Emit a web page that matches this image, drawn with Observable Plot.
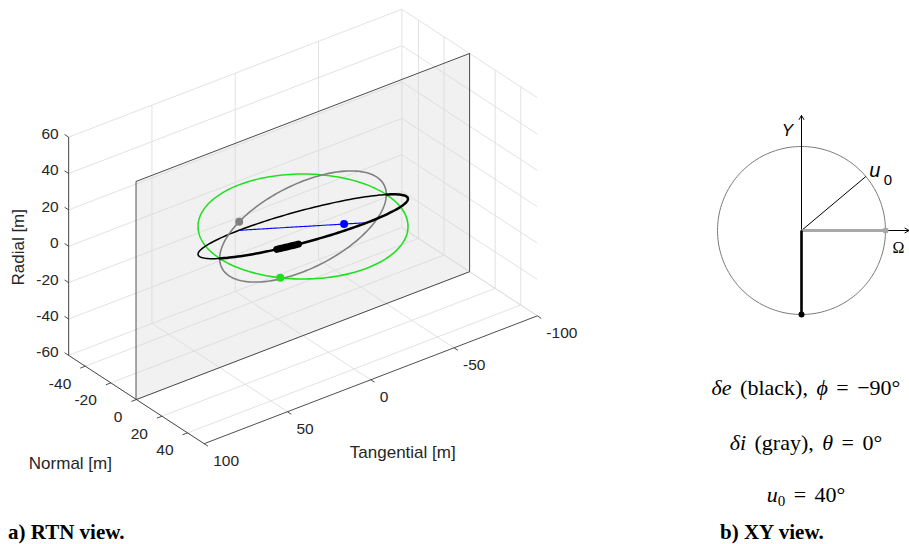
<!DOCTYPE html>
<html>
<head>
<meta charset="utf-8">
<script src="https://cdn.jsdelivr.net/npm/d3@7"></script>
<script src="https://cdn.jsdelivr.net/npm/@observablehq/plot@0.6"></script>
<style>
  body { margin: 0; background: #fff; }
  #page { position: relative; width: 909px; height: 544px; overflow: hidden; background: #fff; }
  #left { position: absolute; left: 0; top: 0; }
  #right { position: absolute; left: 690px; top: 0; }
  .math { position: absolute; left: 656px; width: 300px; text-align: center; white-space: nowrap;
          font-family: "Liberation Serif", "Times New Roman", serif; font-size: 22px; line-height: 24px;
          word-spacing: 3px; color: #000; }
  .math sub { font-size: 15px; vertical-align: -4px; line-height: 0; }
  .cap { position: absolute; font-family: "Liberation Serif", "Times New Roman", serif; font-weight: bold;
         font-size: 21px; line-height: 24px; color: #000; white-space: nowrap; }
</style>
</head>
<body>
<div id="page">
  <div id="left"></div>
  <div id="right"></div>
  <div class="math" id="m1" style="top:376px"></div>
  <div class="math" id="m2" style="top:431px"></div>
  <div class="math" id="m3" style="top:483px"></div>
  <div class="cap" style="left:8px; top:520px">a) RTN view.</div>
  <div class="cap" style="left:720px; top:520px">b) XY view.</div>
</div>
<script>
// ---------------- data ----------------
const radialTicks = [-60, -40, -20, 0, 20, 40, 60];
const normalTicks = [-40, -20, 0, 20, 40];
const tangentialTicks = [-100, -50, 0, 50, 100];
const radialLimits = [-60, 60];
const normalLimits = [-53, 53];
const tangentialLimits = [-100, 100];

const elementNames = ["δe", "δi"];
const elementColorNames = ["black", "gray"];
const elementAmplitudes = [25, 50];      // a·δe, a·δi  [m]
const elementPhasesDeg = [-90, 0];       // φ, θ  [deg]
const u0Deg = 40;                        // argument of latitude at epoch [deg]
const highlightArcDeg = [38, 50];        // thick arc on the 3D orbit
const sampleStepDeg = 2;                 // sampling step of argument of latitude

// ---------------- view (MATLAB-like az/el) ----------------
const AZ = 37.5 * Math.PI / 180, EL = 30 * Math.PI / 180;
const P = (n, t, r) => ({
  x: -Math.cos(AZ) * t + Math.sin(AZ) * n,
  y: Math.cos(EL) * r - Math.sin(EL) * (Math.sin(AZ) * t + Math.cos(AZ) * n)
});
const seg = (a, b) => ({x1: a.x, y1: a.y, x2: b.x, y2: b.y});
const rad = Math.PI / 180;

function motion(uDeg) {
  const [ae, ai] = elementAmplitudes, [phi, theta] = elementPhasesDeg;
  return {
    R: -ae * Math.cos((uDeg - phi) * rad),
    T: 2 * ae * Math.sin((uDeg - phi) * rad),
    N: ai * Math.sin((uDeg - theta) * rad)
  };
}
const full = u => { const m = motion(u); return P(m.N, m.T, m.R); };
const projRT = u => { const m = motion(u); return P(0, m.T, m.R); };
const projTN = u => { const m = motion(u); return P(m.N, m.T, 0); };
const projRN = u => { const m = motion(u); return P(m.N, 0, m.R); };

// argument-of-latitude ranges in front of (N >= 0) and behind (N <= 0) the N = 0 plane
const theta0 = elementPhasesDeg[1];
const frontU = d3.range(theta0, theta0 + 180 + 0.01, sampleStepDeg);
const backU = d3.range(theta0 + 180, theta0 + 360 + 0.01, sampleStepDeg);
const lineFrontU = d3.range(theta0, theta0 + 90 + 0.01, sampleStepDeg);
const lineBackU = d3.range(theta0 - 90, theta0 + 0.01, sampleStepDeg);
const allU = d3.range(0, 360 + 0.01, sampleStepDeg);

const arcPts = d3.range(highlightArcDeg[0], highlightArcDeg[1] + 0.01, 1).map(full);

const [nMin, nMax] = normalLimits, [tMin, tMax] = tangentialLimits, [rMin, rMax] = radialLimits;

const grid = [
  ...tangentialTicks.map(t => seg(P(nMin, t, rMin), P(nMin, t, rMax))),
  ...radialTicks.map(r => seg(P(nMin, tMin, r), P(nMin, tMax, r))),
  ...normalTicks.map(n => seg(P(n, tMin, rMin), P(n, tMin, rMax))),
  ...radialTicks.map(r => seg(P(nMin, tMin, r), P(nMax, tMin, r))),
  ...tangentialTicks.map(t => seg(P(nMin, t, rMin), P(nMax, t, rMin))),
  ...normalTicks.map(n => seg(P(n, tMin, rMin), P(n, tMax, rMin)))
];
const axisLines = [
  seg(P(nMin, tMax, rMin), P(nMin, tMax, rMax)),
  seg(P(nMin, tMax, rMin), P(nMax, tMax, rMin)),
  seg(P(nMax, tMin, rMin), P(nMax, tMax, rMin))
];
const tickMarks = [
  ...radialTicks.map(r => seg(P(nMin, tMax, r), P(nMin - 3.2, tMax, r))),
  ...normalTicks.map(n => seg(P(n, tMax, rMin), P(n, tMax + 3, rMin))),
  ...tangentialTicks.map(t => seg(P(nMax, t, rMin), P(nMax + 3, t, rMin)))
];
const plane = [P(0, tMax, rMax), P(0, tMin, rMax), P(0, tMin, rMin), P(0, tMax, rMin)];

const rLabels = radialTicks.map(r => ({...P(nMin, tMax, r), text: String(r)}));
const nLabels = normalTicks.map(n => ({...P(n, tMax, rMin), text: String(n)}));
const tLabels = tangentialTicks.map(t => ({...P(nMax, t, rMin), text: String(t)}));

const dotsRN = [projRN(u0Deg)];
const dotsRT = [projRT(u0Deg)];
const dotsTN = [projTN(u0Deg)];

// ---------------- left chart ----------------
const W1 = 640, H1 = 500, k = 2.1, ox = 302.5, oy = 226;
const GREEN = "#1fe01f", GRAY = "#808080", BLUE = "#0000ff";
const tickFont = 15.5, labelFont = 17;
const xy = {x: "x", y: "y"};

const left = Plot.plot({
  width: W1, height: H1, margin: 0,
  style: {fontFamily: "'Liberation Sans', Arial, sans-serif", background: "transparent"},
  x: {domain: [-ox / k, (W1 - ox) / k], range: [0, W1], axis: null},
  y: {domain: [-(H1 - oy) / k, oy / k], range: [H1, 0], axis: null},
  marks: [
    Plot.link(grid, {x1: "x1", y1: "y1", x2: "x2", y2: "y2", stroke: "#dadada", strokeWidth: 0.8}),
    Plot.line(plane, {...xy, curve: "linear-closed", fill: "#d9d9d9", fillOpacity: 0.36, stroke: "none"}),
    Plot.line(plane, {...xy, curve: "linear-closed", stroke: "#3a3a3a", strokeWidth: 0.9}),
    Plot.line(backU.map(projTN), {...xy, stroke: GREEN, strokeWidth: 1.5}),
    Plot.line(backU.map(full), {...xy, stroke: "#000", strokeWidth: 1.5}),
    Plot.line(lineBackU.map(projRN), {...xy, stroke: BLUE, strokeWidth: 1.1}),
    Plot.line(allU.map(projRT), {...xy, stroke: GRAY, strokeWidth: 1.6}),
    Plot.line(frontU.map(projTN), {...xy, stroke: GREEN, strokeWidth: 1.6}),
    Plot.line(lineFrontU.map(projRN), {...xy, stroke: BLUE, strokeWidth: 1.1}),
    Plot.line(frontU.map(full), {...xy, stroke: "#000", strokeWidth: 2.5}),
    Plot.line(arcPts, {...xy, stroke: "#000", strokeWidth: 7, strokeLinecap: "round"}),
    Plot.dot(dotsRT, {...xy, r: 4, fill: GRAY}),
    Plot.dot(dotsRN, {...xy, r: 4, fill: BLUE}),
    Plot.dot(dotsTN, {...xy, r: 4, fill: GREEN}),
    Plot.link(axisLines, {x1: "x1", y1: "y1", x2: "x2", y2: "y2", stroke: "#3a3a3a", strokeWidth: 0.9}),
    Plot.link(tickMarks, {x1: "x1", y1: "y1", x2: "x2", y2: "y2", stroke: "#3a3a3a", strokeWidth: 0.9}),
    Plot.text(rLabels, {...xy, text: "text", textAnchor: "end", dx: -10, dy: -3, fontSize: tickFont, fill: "#262626"}),
    Plot.text(nLabels, {...xy, text: "text", textAnchor: "end", dx: -14, dy: 17.5, fontSize: tickFont, fill: "#262626"}),
    Plot.text(tLabels, {...xy, text: "text", textAnchor: "start", dx: 9, dy: 17.5, fontSize: tickFont, fill: "#262626"}),
    Plot.text([P(nMin, tMax, 0)], {...xy, text: () => "Radial [m]", rotate: -90, dx: -50, dy: 1, fontSize: labelFont, fill: "#262626"}),
    Plot.text([P(0, tMax, rMin)], {...xy, text: () => "Normal [m]", dx: -66, dy: 64, fontSize: labelFont, fill: "#262626"}),
    Plot.text([P(nMax, 0, rMin)], {...xy, text: () => "Tangential [m]", dx: 32, dy: 73, fontSize: labelFont, fill: "#262626"})
  ]
});
document.getElementById("left").appendChild(left);

// ---------------- right chart (XY view) ----------------
const circlePts = allU.map(a => ({x: Math.cos(a * rad), y: Math.sin(a * rad)}));
const axisArrowLengths = [1.37, 1.28]; // Y axis, Ω axis (in circle radii)
const deVec = {x: Math.cos(elementPhasesDeg[0] * rad), y: Math.sin(elementPhasesDeg[0] * rad)};
const diVec = {x: Math.cos(elementPhasesDeg[1] * rad), y: Math.sin(elementPhasesDeg[1] * rad)};
const u0Vec = {x: Math.cos(u0Deg * rad), y: Math.sin(u0Deg * rad)};

const W2 = 219, H2 = 340, k2 = 84, cx = 111, cy = 230;
const right = Plot.plot({
  width: W2, height: H2, margin: 0,
  style: {fontFamily: "'Liberation Sans', Arial, sans-serif", background: "transparent", overflow: "visible"},
  x: {domain: [-cx / k2, (W2 - cx) / k2], range: [0, W2], axis: null},
  y: {domain: [-(H2 - cy) / k2, cy / k2], range: [H2, 0], axis: null},
  marks: [
    Plot.line(circlePts, {...xy, stroke: "#7a7a7a", strokeWidth: 1}),
    Plot.arrow([{x1: 0, y1: 0, x2: 0, y2: axisArrowLengths[0]}], {x1: "x1", y1: "y1", x2: "x2", y2: "y2", stroke: "#000", strokeWidth: 1, headLength: 7}),
    Plot.arrow([{x1: 0, y1: 0, x2: axisArrowLengths[1], y2: 0}], {x1: "x1", y1: "y1", x2: "x2", y2: "y2", stroke: "#000", strokeWidth: 1, headLength: 7}),
    Plot.link([{x1: 0, y1: 0, x2: u0Vec.x, y2: u0Vec.y}], {x1: "x1", y1: "y1", x2: "x2", y2: "y2", stroke: "#000", strokeWidth: 1}),
    Plot.link([{x1: 0, y1: 0, x2: diVec.x, y2: diVec.y}], {x1: "x1", y1: "y1", x2: "x2", y2: "y2", stroke: "#a8a8a8", strokeWidth: 3}),
    Plot.link([{x1: 0, y1: 0, x2: deVec.x, y2: deVec.y}], {x1: "x1", y1: "y1", x2: "x2", y2: "y2", stroke: "#000", strokeWidth: 2.6}),
    Plot.dot([diVec], {...xy, r: 3, fill: "#a8a8a8"}),
    Plot.dot([deVec], {...xy, r: 3, fill: "#000"}),
    Plot.text([{x: 0, y: axisArrowLengths[0]}], {...xy, text: () => "Y", dx: -14, dy: 15, fontSize: 17, fontStyle: "italic", fill: "#000"}),
    Plot.text([u0Vec], {...xy, text: () => "u", dx: 9, dy: -6, fontSize: 20, fontStyle: "italic", fill: "#000"}),
    Plot.text([u0Vec], {...xy, text: () => "0", dx: 22, dy: 4, fontSize: 15, fill: "#000"}),
    Plot.text([diVec], {...xy, text: () => "Ω", dx: 13, dy: 17, fontSize: 16, fontFamily: "'Liberation Serif', serif", fill: "#000"})
  ]
});
document.getElementById("right").appendChild(right);

// ---------------- text block ----------------
const fmtDeg = v => (v < 0 ? "−" + Math.abs(v) : String(v)) + "°";
document.getElementById("m1").innerHTML =
  `<i>δe</i> (${elementColorNames[0]}), <i>ϕ</i> = ${fmtDeg(elementPhasesDeg[0])}`;
document.getElementById("m2").innerHTML =
  `<i>δi</i> (${elementColorNames[1]}), <i>θ</i> = ${fmtDeg(elementPhasesDeg[1])}`;
document.getElementById("m3").innerHTML =
  `<i>u</i><sub>0</sub> = ${fmtDeg(u0Deg)}`;
</script>
</body>
</html>
